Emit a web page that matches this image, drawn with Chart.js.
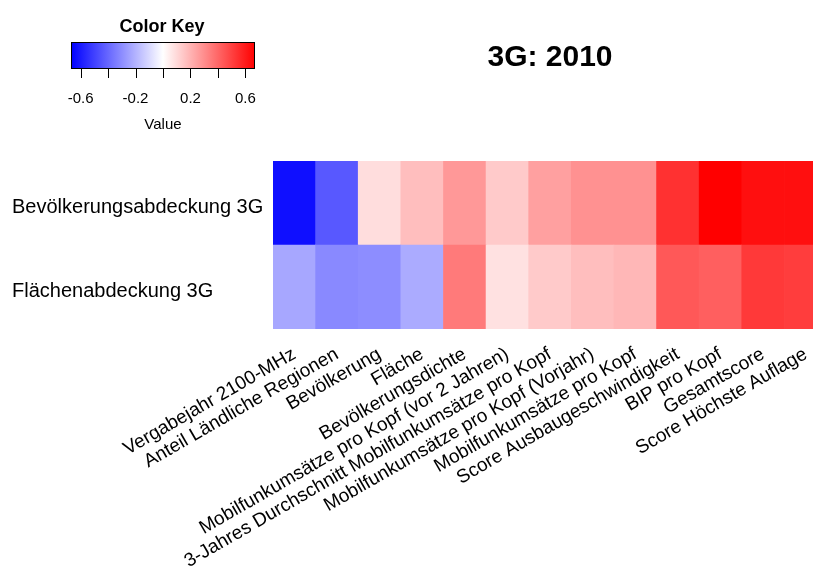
<!DOCTYPE html>
<html><head><meta charset="utf-8">
<script src="https://cdn.jsdelivr.net/npm/chart.js@4/dist/chart.umd.min.js"></script>
<style>html,body{margin:0;padding:0;overflow:hidden;background:#fff}#wrap{width:840px;height:574px}</style>
</head><body><div id="wrap"><canvas id="c"></canvas></div>
<script>
const chartTitle = '3G: 2010';
const columns = [
  'Vergabejahr 2100-MHz',
  'Anteil Ländliche Regionen',
  'Bevölkerung',
  'Fläche',
  'Bevölkerungsdichte',
  'Mobilfunkumsätze pro Kopf (vor 2 Jahren)',
  '3-Jahres Durchschnitt Mobilfunkumsätze pro Kopf',
  'Mobilfunkumsätze pro Kopf (Vorjahr)',
  'Mobilfunkumsätze pro Kopf',
  'Score Ausbaugeschwindigkeit',
  'BIP pro Kopf',
  'Gesamtscore',
  'Score Höchste Auflage'
];
const rows = ['Bevölkerungsabdeckung 3G', 'Flächenabdeckung 3G'];
const valuesBevoelkerung = [-0.63, -0.44, 0.09, 0.17, 0.27, 0.14, 0.25, 0.29, 0.29, 0.54, 0.67, 0.63, 0.63];
const valuesFlaeche = [-0.23, -0.31, -0.30, -0.22, 0.35, 0.08, 0.14, 0.17, 0.19, 0.44, 0.42, 0.52, 0.51];
const keyTicks = [-0.6, -0.4, -0.2, 0, 0.2, 0.4, 0.6];
const keyTickLabels = [-0.6, -0.2, 0.2, 0.6];
const keyRange = 0.67;

function colorFor(v) {
  const t = Math.min(1, Math.abs(v) / keyRange);
  const c = Math.round(255 * (1 - t));
  return v >= 0 ? `rgb(255,${c},${c})` : `rgb(${c},${c},255)`;
}

const colorKeyPlugin = {
  id: 'colorKey',
  afterDraw(chart) {
    const ctx = chart.ctx;
    const x0 = 71, x1 = 255, y0 = 42, y1 = 69;
    const cx = (x0 + x1) / 2;
    const sx = (x1 - x0) / (2 * keyRange);
    ctx.save();
    ctx.fillStyle = '#000';
    ctx.font = 'bold 18px "Liberation Sans", Arial, sans-serif';
    ctx.textAlign = 'center';
    ctx.textBaseline = 'alphabetic';
    ctx.fillText('Color Key', 162, 32);
    const g = ctx.createLinearGradient(x0, 0, x1, 0);
    g.addColorStop(0, colorFor(-keyRange));
    g.addColorStop(0.5, '#ffffff');
    g.addColorStop(1, colorFor(keyRange));
    ctx.fillStyle = g;
    ctx.fillRect(x0, y0, x1 - x0, y1 - y0);
    ctx.strokeStyle = '#000';
    ctx.lineWidth = 1;
    ctx.strokeRect(x0 + 0.5, y0 + 0.5, x1 - x0 - 1, y1 - y0 - 1);
    ctx.beginPath();
    keyTicks.forEach(v => {
      const x = Math.round(cx + v * sx) + 0.5;
      ctx.moveTo(x, y1);
      ctx.lineTo(x, y1 + 9);
    });
    ctx.stroke();
    ctx.fillStyle = '#000';
    ctx.font = '15px "Liberation Sans", Arial, sans-serif';
    keyTickLabels.forEach(v => {
      ctx.fillText(String(v), cx + v * sx, 103);
    });
    ctx.fillText('Value', cx, 129);
    ctx.restore();
  }
};

new Chart(document.getElementById('c'), {
  type: 'bar',
  data: {
    labels: columns,
    datasets: [
      {
        label: rows[1],
        data: columns.map(() => [0, 1]),
        backgroundColor: valuesFlaeche.map(colorFor),
        borderWidth: 0,
        grouped: false,
        barPercentage: 1,
        categoryPercentage: 1
      },
      {
        label: rows[0],
        data: columns.map(() => [1, 2]),
        backgroundColor: valuesBevoelkerung.map(colorFor),
        borderWidth: 0,
        grouped: false,
        barPercentage: 1,
        categoryPercentage: 1
      }
    ]
  },
  options: {
    responsive: true,
    maintainAspectRatio: false,
    animation: false,
    layout: { padding: { left: 12, right: 13, top: 0, bottom: 0 } },
    plugins: {
      legend: { display: false },
      tooltip: { enabled: false },
      title: {
        display: true,
        text: chartTitle,
        fullSize: false,
        color: '#000',
        font: { family: '"Liberation Sans", Arial, sans-serif', size: 30, weight: 'bold', lineHeight: 1.2 },
        padding: { top: 40, bottom: 85 }
      }
    },
    scales: {
      x: {
        type: 'category',
        offset: true,
        grid: { display: false },
        border: { display: false },
        ticks: {
          autoSkip: false,
          minRotation: 30,
          maxRotation: 30,
          padding: 6,
          color: '#000',
          font: { family: '"Liberation Sans", Arial, sans-serif', size: 19 }
        },
        afterFit(scale) { scale.height = 245; }
      },
      y: {
        type: 'linear',
        min: 0,
        max: 2,
        grid: { display: false },
        border: { display: false },
        afterBuildTicks(scale) { scale.ticks = [{ value: 0.5 }, { value: 1.5 }]; },
        ticks: {
          crossAlign: 'far',
          labelOffset: 4,
          color: '#000',
          font: { family: '"Liberation Sans", Arial, sans-serif', size: 20 },
          callback(value) { return value > 1 ? rows[0] : rows[1]; }
        },
        afterFit(scale) { scale.width = 261; }
      }
    }
  },
  plugins: [colorKeyPlugin]
});
</script>
</body></html>
